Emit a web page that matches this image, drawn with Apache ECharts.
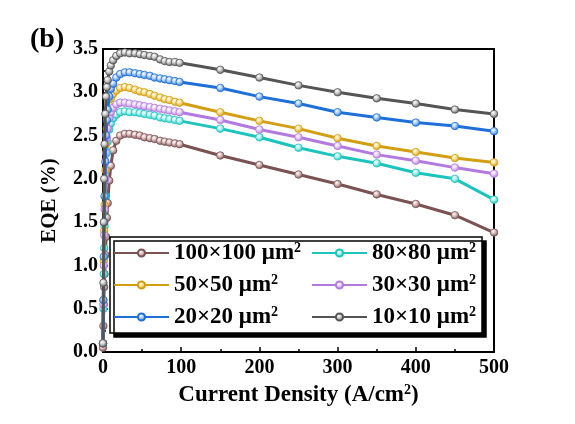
<!DOCTYPE html>
<html>
<head>
<meta charset="utf-8">
<script src="https://cdn.jsdelivr.net/npm/echarts@6/dist/echarts.min.js"></script>
<style>html,body{margin:0;padding:0;background:#fff;}#chart{width:575px;height:424px;}</style>
</head>
<body>
<div id="chart"></div>
<script>
// Current density (A/cm^2)
const currentDensity = [0, 0.5, 1, 1.5, 2, 3, 4, 5, 6, 8, 10, 13, 17, 22, 28, 34, 41, 47, 53, 60, 66, 73, 79, 85, 92, 98, 150, 200, 250, 300, 350, 400, 450, 500];
// EQE (%) per device size
const eqe100 = [0.05, 0.3, 0.55, 0.75, 0.9, 1.12, 1.33, 1.55, 1.72, 1.98, 2.15, 2.33, 2.44, 2.50, 2.52, 2.52, 2.51, 2.50, 2.48, 2.47, 2.46, 2.44, 2.43, 2.42, 2.41, 2.40, 2.27, 2.16, 2.05, 1.94, 1.82, 1.71, 1.58, 1.38];
const eqe80  = [0.1, 0.5, 0.9, 1.2, 1.45, 1.8, 2.1, 2.3, 2.43, 2.57, 2.64, 2.70, 2.74, 2.77, 2.78, 2.77, 2.77, 2.76, 2.75, 2.74, 2.73, 2.71, 2.70, 2.69, 2.68, 2.67, 2.58, 2.48, 2.36, 2.26, 2.18, 2.07, 2.00, 1.76];
const eqe50  = [0.1, 0.6, 1.05, 1.4, 1.7, 2.1, 2.4, 2.58, 2.7, 2.85, 2.93, 2.98, 3.02, 3.05, 3.06, 3.05, 3.03, 3.01, 3.00, 2.98, 2.96, 2.94, 2.92, 2.91, 2.89, 2.88, 2.77, 2.67, 2.58, 2.47, 2.38, 2.31, 2.24, 2.19];
const eqe30  = [0.1, 0.55, 1.0, 1.35, 1.65, 2.0, 2.3, 2.47, 2.58, 2.70, 2.77, 2.82, 2.86, 2.88, 2.88, 2.87, 2.86, 2.85, 2.84, 2.83, 2.82, 2.81, 2.80, 2.79, 2.78, 2.77, 2.68, 2.57, 2.48, 2.38, 2.28, 2.21, 2.13, 2.06];
const eqe20  = [0.1, 0.6, 1.1, 1.5, 1.8, 2.2, 2.5, 2.68, 2.8, 2.95, 3.04, 3.10, 3.17, 3.21, 3.23, 3.23, 3.22, 3.21, 3.20, 3.19, 3.17, 3.16, 3.15, 3.14, 3.13, 3.12, 3.05, 2.95, 2.87, 2.77, 2.71, 2.65, 2.61, 2.55];
const eqe10  = [0.1, 0.8, 1.5, 2.0, 2.4, 2.75, 2.95, 3.06, 3.14, 3.24, 3.31, 3.37, 3.42, 3.45, 3.46, 3.45, 3.45, 3.44, 3.43, 3.42, 3.41, 3.38, 3.36, 3.35, 3.35, 3.34, 3.26, 3.17, 3.08, 3.00, 2.93, 2.87, 2.80, 2.75];

const seriesNames = ['100×100 μm²', '80×80 μm²', '50×50 μm²', '30×30 μm²', '20×20 μm²', '10×10 μm²'];
const seriesValues = [eqe100, eqe80, eqe50, eqe30, eqe20, eqe10];
const lineColors = ['#7a5252', '#1cc4bd', '#d29e12', '#b27ade', '#1f6fd8', '#555555'];
const lightColors = ['#d9b8b8', '#a8f0ec', '#f6dc8a', '#e6cff7', '#a8cbf5', '#c8c8c8'];

const xTickLabels = ['0', '100', '200', '300', '400', '500'];
const yTickLabels = ['0.0', '0.5', '1.0', '1.5', '2.0', '2.5', '3.0', '3.5'];

const FONT = '"Liberation Serif", "Times New Roman", serif';

const chart = echarts.init(document.getElementById('chart'), null, {renderer: 'canvas'});

const series = seriesNames.map((name, i) => ({
  name: name,
  type: 'line',
  data: currentDensity.map((x, j) => [x, seriesValues[i][j]]),
  symbol: 'circle',
  symbolSize: 7.5,
  showAllSymbol: true,
  lineStyle: {color: lineColors[i], width: 3},
  itemStyle: {
    color: {
      type: 'radial', x: 0.4, y: 0.35, r: 0.65,
      colorStops: [
        {offset: 0, color: '#ffffff'},
        {offset: 0.45, color: lightColors[i]},
        {offset: 1, color: lineColors[i]}
      ]
    },
    borderColor: lineColors[i],
    borderWidth: 0.8
  },
  emphasis: {disabled: true},
  animation: false,
  z: 2 + i
}));

const legendWidths = [129, 107, 129, 107, 129, 107];
const legendData = seriesNames.map((name, i) => ({
  name: name,
  textStyle: {width: legendWidths[i]}
}));

chart.setOption({
  backgroundColor: '#ffffff',
  animation: false,
  grid: {
    left: 103, right: 81, top: 49, bottom: 72,
    show: true, borderColor: '#000', borderWidth: 2, backgroundColor: 'transparent'
  },
  xAxis: {
    type: 'value', min: 0, max: 500, interval: 100,
    name: 'Current Density (A/cm{s|2})',
    nameLocation: 'middle', nameGap: 30,
    nameTextStyle: {
      fontFamily: FONT, fontWeight: 'bold', fontSize: 23, color: '#000',
      rich: {s: {fontFamily: FONT, fontWeight: 'bold', fontSize: 14, verticalAlign: 'top', padding: [0, 0, 10, 0], color: '#000'}}
    },
    axisLine: {show: true, onZero: false, lineStyle: {color: '#000', width: 2}},
    axisTick: {show: true, inside: true, length: 5, lineStyle: {color: '#000', width: 1.5}},
    minorTick: {show: true, splitNumber: 2, length: 3, lineStyle: {color: '#000', width: 1.5}},
    splitLine: {show: false},
    axisLabel: {
      fontFamily: FONT, fontWeight: 'bold', fontSize: 20, color: '#000', margin: 6,
      formatter: (v) => xTickLabels[Math.round(v / 100)] ?? ''
    }
  },
  yAxis: {
    type: 'value', min: 0, max: 3.5, interval: 0.5,
    name: 'EQE (%)',
    nameLocation: 'middle', nameGap: 43,
    nameTextStyle: {fontFamily: FONT, fontWeight: 'bold', fontSize: 21, color: '#000'},
    axisLine: {show: true, onZero: false, lineStyle: {color: '#000', width: 2}},
    axisTick: {show: true, inside: true, length: 5, lineStyle: {color: '#000', width: 1.5}},
    minorTick: {show: true, splitNumber: 2, length: 3, lineStyle: {color: '#000', width: 1.5}},
    splitLine: {show: false},
    axisLabel: {
      fontFamily: FONT, fontWeight: 'bold', fontSize: 20, color: '#000', margin: 5,
      formatter: (v) => yTickLabels[Math.round(v / 0.5)] ?? ''
    }
  },
  legend: {
    data: legendData,
    left: 110, top: 237, width: 380,
    orient: 'horizontal',
    itemWidth: 55, itemHeight: 9, itemGap: 8,
    padding: [4, 3, 4, 3],
    backgroundColor: '#ffffff',
    borderColor: '#000', borderWidth: 1.5, borderRadius: 0,
    shadowColor: '#000', shadowBlur: 0, shadowOffsetX: 4, shadowOffsetY: 4,
    selectedMode: false,
    formatter: (name) => '{t|' + name.replace('²', '') + '}{s|2}',
    textStyle: {
      fontFamily: FONT, fontWeight: 'bold', fontSize: 23, color: '#000', lineHeight: 24,
      rich: {
        t: {fontFamily: FONT, fontWeight: 'bold', fontSize: 23, color: '#000', lineHeight: 24},
        s: {fontFamily: FONT, fontWeight: 'bold', fontSize: 14, color: '#000', verticalAlign: 'top', lineHeight: 14}
      }
    }
  },
  graphic: [{
    type: 'text', left: 30, top: 26,
    style: {text: '(b)', fontFamily: FONT, fontWeight: 'bold', fontSize: 28, fill: '#000'}
  }],
  series: series
});
</script>
</body>
</html>
